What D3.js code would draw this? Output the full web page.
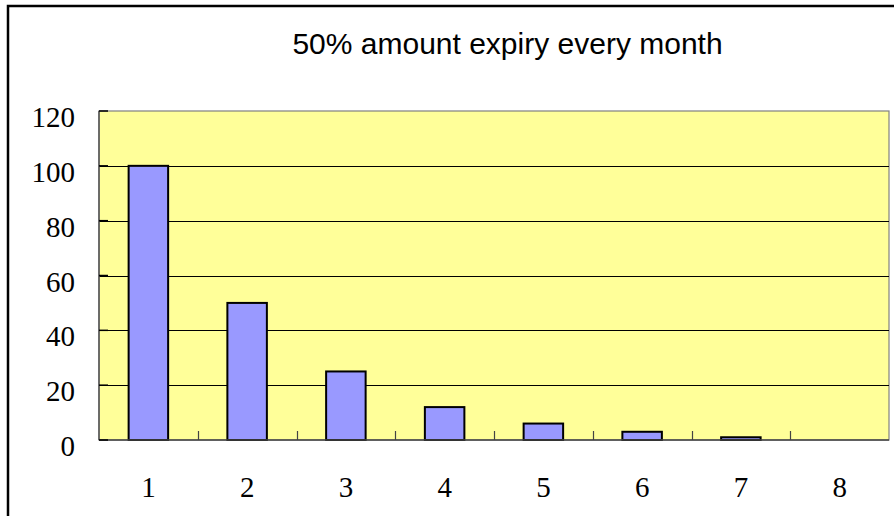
<!DOCTYPE html>
<html><head><meta charset="utf-8">
<script src="https://cdn.jsdelivr.net/npm/d3@7"></script>
<style>html,body{margin:0;padding:0;background:#fff;}svg{display:block;}</style>
</head><body>
<svg id="c" width="894" height="516"></svg>
<script>
const categories = ["1","2","3","4","5","6","7","8"];
const values = [100, 50, 25, 12, 6, 3, 1, 0];
const yTicks = [0, 20, 40, 60, 80, 100, 120];
const title = "50% amount expiry every month";

const svg = d3.select("#c");
const L = 99, R = 889, T = 111, B = 440;

// chart area border
svg.append("rect").attr("x", 8).attr("y", 6).attr("width", 960).attr("height", 600)
  .attr("fill", "#fff").attr("stroke", "#000").attr("stroke-width", 2.5);

const x = d3.scaleBand().domain(categories).range([L, R]).paddingInner(0.6).paddingOuter(0.3);
const xb = d3.scaleLinear().domain([0, categories.length]).range([L, R]);
const y = d3.scaleLinear().domain([0, 120]).range([B, T]);

// plot area
svg.append("rect").attr("x", L).attr("y", T).attr("width", R - L).attr("height", B - T)
  .attr("fill", "#FFFF99").attr("stroke", "#808080").attr("stroke-width", 1.2);

// gridlines
svg.append("g").selectAll("line").data(yTicks.filter(d => d > 0 && d < 120)).join("line")
  .attr("x1", L).attr("x2", R).attr("y1", d => Math.round(y(d)) + 0.5).attr("y2", d => Math.round(y(d)) + 0.5)
  .attr("stroke", "#000").attr("stroke-width", 1);

// bars
svg.append("g").selectAll("rect").data(values).join("rect")
  .attr("x", (d, i) => x(categories[i]))
  .attr("y", d => y(d))
  .attr("width", x.bandwidth())
  .attr("height", d => B - y(d))
  .attr("fill", "#9999FF").attr("stroke", "#000").attr("stroke-width", 2);

// axes
svg.append("line").attr("x1", L).attr("x2", L).attr("y1", T).attr("y2", B)
  .attr("stroke", "#555").attr("stroke-width", 1.5);
svg.append("line").attr("x1", L).attr("x2", R).attr("y1", B).attr("y2", B)
  .attr("stroke", "#444").attr("stroke-width", 1.5);

// x ticks at category boundaries (inside)
svg.append("g").selectAll("line").data(d3.range(1, categories.length)).join("line")
  .attr("x1", d => Math.round(xb(d)) + 0.5).attr("x2", d => Math.round(xb(d)) + 0.5)
  .attr("y1", B).attr("y2", B - 9)
  .attr("stroke", "#444").attr("stroke-width", 1.2);

// y ticks (inside)
svg.append("g").selectAll("line").data(yTicks).join("line")
  .attr("x1", L).attr("x2", L + 9)
  .attr("y1", d => y(d)).attr("y2", d => y(d))
  .attr("stroke", "#000").attr("stroke-width", 1.5);

// y labels
svg.append("g").selectAll("text").data(yTicks).join("text")
  .attr("x", 75).attr("y", d => y(d) + 16)
  .attr("text-anchor", "end")
  .attr("font-family", "'Liberation Serif', 'Times New Roman', serif")
  .attr("font-size", 29).attr("fill", "#000")
  .text(d => d);

// x labels
svg.append("g").selectAll("text").data(categories).join("text")
  .attr("x", d => x(d) + x.bandwidth() / 2).attr("y", 497)
  .attr("text-anchor", "middle")
  .attr("font-family", "'Liberation Serif', 'Times New Roman', serif")
  .attr("font-size", 29).attr("fill", "#000")
  .text(d => d);

// title
svg.append("text").attr("x", 507.5).attr("y", 54)
  .attr("text-anchor", "middle")
  .attr("font-family", "'Liberation Sans', Arial, sans-serif")
  .attr("font-size", 30).attr("fill", "#000")
  .text(title);
</script>
</body></html>
